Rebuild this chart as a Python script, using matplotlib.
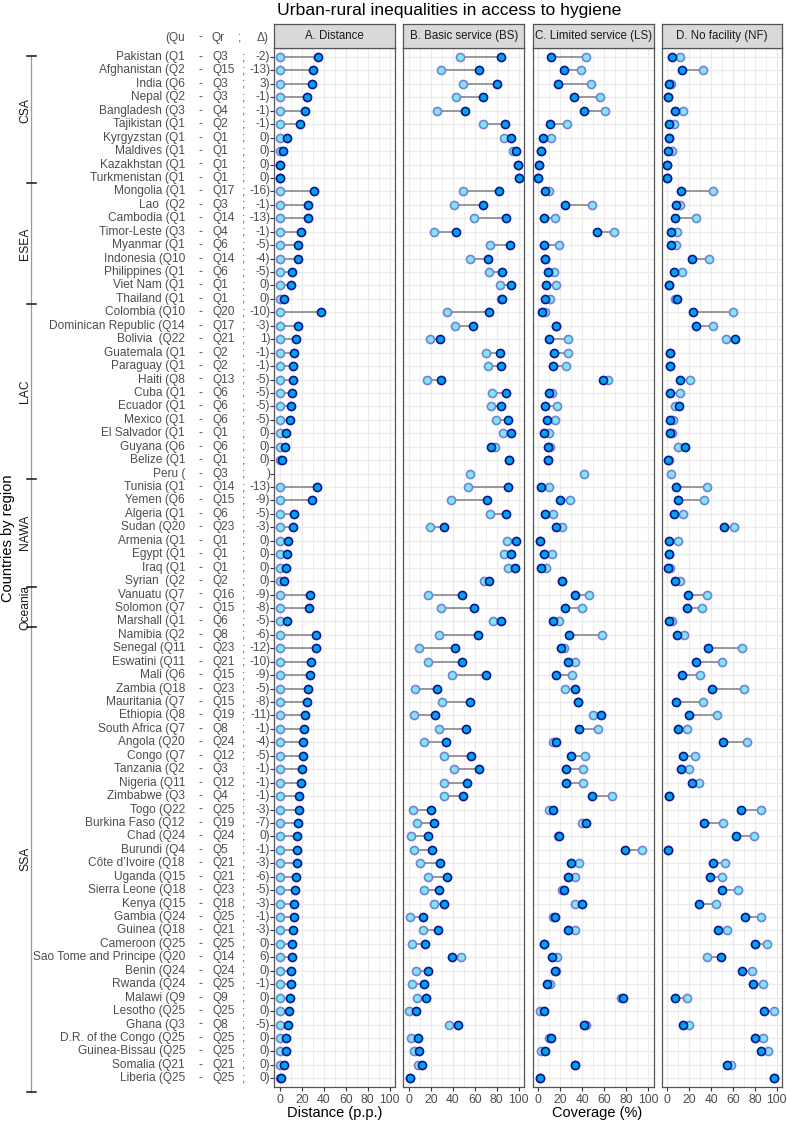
import numpy as np
import matplotlib
matplotlib.use("Agg")
import matplotlib.pyplot as plt
from matplotlib import transforms

plt.rcParams['font.family'] = ['Liberation Sans', 'DejaVu Sans']

nan = np.nan

countries = ["Pakistan", "Afghanistan", "India", "Nepal", "Bangladesh", "Tajikistan", "Kyrgyzstan",
             "Maldives", "Kazakhstan", "Turkmenistan",
             "Mongolia", "Lao ", "Cambodia", "Timor-Leste", "Myanmar", "Indonesia", "Philippines",
             "Viet Nam", "Thailand",
             "Colombia", "Dominican Republic", "Bolivia ", "Guatemala", "Paraguay", "Haiti", "Cuba",
             "Ecuador", "Mexico", "El Salvador", "Guyana", "Belize", "Peru",
             "Tunisia", "Yemen", "Algeria", "Sudan", "Armenia", "Egypt", "Iraq", "Syrian ",
             "Vanuatu", "Solomon", "Marshall",
             "Namibia", "Senegal", "Eswatini", "Mali", "Zambia", "Mauritania", "Ethiopia",
             "South Africa", "Angola", "Congo", "Tanzania", "Nigeria", "Zimbabwe", "Togo",
             "Burkina Faso", "Chad", "Burundi", "Côte d’Ivoire", "Uganda", "Sierra Leone", "Kenya",
             "Gambia", "Guinea", "Cameroon", "Sao Tome and Principe", "Benin", "Rwanda", "Malawi",
             "Lesotho", "Ghana", "D.R. of the Congo", "Guinea-Bissau", "Somalia", "Liberia"]

q_urban = ["Q1", "Q2", "Q6", "Q2", "Q3", "Q1", "Q1", "Q1", "Q1", "Q1",
           "Q1", "Q2", "Q1", "Q3", "Q1", "Q10", "Q1", "Q1", "Q1",
           "Q10", "Q14", "Q22", "Q1", "Q1", "Q8", "Q1", "Q1", "Q1", "Q1", "Q6", "Q1", "",
           "Q1", "Q6", "Q1", "Q20", "Q1", "Q1", "Q1", "Q2",
           "Q7", "Q7", "Q1",
           "Q2", "Q11", "Q11", "Q6", "Q18", "Q7", "Q8", "Q7", "Q20", "Q7", "Q2", "Q11", "Q3",
           "Q22", "Q12", "Q24", "Q4", "Q18", "Q15", "Q18", "Q15", "Q24", "Q18", "Q25", "Q20",
           "Q24", "Q24", "Q9", "Q25", "Q3", "Q25", "Q25", "Q21", "Q25"]

q_rural = ["Q3", "Q15", "Q3", "Q3", "Q4", "Q2", "Q1", "Q1", "Q1", "Q1",
           "Q17", "Q3", "Q14", "Q4", "Q6", "Q14", "Q6", "Q1", "Q1",
           "Q20", "Q17", "Q21", "Q2", "Q2", "Q13", "Q6", "Q6", "Q6", "Q1", "Q6", "Q1", "Q3",
           "Q14", "Q15", "Q6", "Q23", "Q1", "Q1", "Q1", "Q2",
           "Q16", "Q15", "Q6",
           "Q8", "Q23", "Q21", "Q15", "Q23", "Q15", "Q19", "Q8", "Q24", "Q12", "Q3", "Q12", "Q4",
           "Q25", "Q19", "Q24", "Q5", "Q21", "Q21", "Q23", "Q18", "Q25", "Q21", "Q25", "Q14",
           "Q24", "Q25", "Q9", "Q25", "Q8", "Q25", "Q25", "Q21", "Q25"]

delta = ["-2", "-13", "3", "-1", "-1", "-1", "0", "0", "0", "0",
         "-16", "-1", "-13", "-1", "-5", "-4", "-5", "0", "0",
         "-10", "-3", "1", "-1", "-1", "-5", "-5", "-5", "-5", "0", "0", "0", "",
         "-13", "-9", "-5", "-3", "0", "0", "0", "0",
         "-9", "-8", "-5",
         "-6", "-12", "-10", "-9", "-5", "-8", "-11", "-1", "-4", "-5", "-1", "-1", "-1",
         "-3", "-7", "0", "-1", "-3", "-6", "-5", "-3", "-1", "-3", "0", "6",
         "0", "-1", "0", "0", "-5", "0", "0", "0", "0"]

regions = ["CSA", "ESEA", "LAC", "NAWA", "Oceania", "SSA"]

# A. distance (p.p.)
distance = [35, 30, 29, 24.5, 23, 18.5, 6.5, 3, 0.6, 0.6,
            31, 26, 25.7, 19, 16.4, 16.4, 11.3, 9.9, 3.6,
            37.3, 16.7, 14.3, 13.1, 12.2, 11.6, 11.3, 9.9, 9.3, 5.4, 5.1, 2.1, nan,
            33.4, 29.6, 12.8, 12.2, 7.5, 6.3, 5.7, 3.9,
            27.5, 26.6, 6.9,
            32.8, 32.5, 28.4, 27.2, 26, 25.1, 23.3, 22.1, 21.5, 21.2, 20, 19.7, 17.9, 17.6,
            16.4, 15.8, 15.5, 15.5, 14.3, 13.7, 13.1, 12.5, 12.2, 11.3, 11, 10.4, 9.9, 9.6,
            8.4, 7.8, 6, 6, 3.6, 1.5]

# B. basic service (%)
bs_rural = [46.8, 29.4, 49.5, 42.9, 25.5, 67.3, 86.2, 94.6, 99.4, 100,
            49.5, 40.8, 59.5, 22.5, 74.2, 55.6, 73, 82.6, 83.5,
            35.1, 42, 19.5, 70, 72, 16.5, 76, 75, 79.6, 85.6, 78.7, 90.7, 55.9,
            54, 38.1, 73.6, 19.5, 89.5, 87, 90, 68.2,
            17.4, 29.4, 76.9,
            27.9, 9, 17.1, 39.6, 5.4, 30, 4.5, 27.9, 14.1, 32.4, 40.8, 31.8, 31.8, 4.2,
            7.8, 2.4, 4.5, 10.5, 17.4, 14.1, 22.5, 1.2, 12.9, 3, 47.7, 6.6, 3.3, 7.8,
            0, 36.6, 2.1, 4.5, 8.1, 1.5]
bs_urban = [83.5, 63.7, 80.2, 67.6, 51, 87.4, 93.1, 97.3, 99.4, 100,
            82, 67.6, 88.6, 42.6, 92.2, 72, 85, 92.5, 84.4,
            73, 58.6, 28.5, 83.2, 84, 29.4, 88.3, 83.5, 90.4, 92.5, 74.8, 90.7, nan,
            90.4, 71.2, 88, 32.4, 97, 92.5, 96.7, 72.7,
            48.6, 59.2, 84,
            62.8, 42, 48.3, 70.6, 25.5, 55.6, 23.4, 52.3, 33.9, 56.8, 63.7, 52.6, 48.9, 20.4,
            23.1, 17.7, 20.7, 28.8, 34.5, 27, 32.1, 12.6, 26.4, 15, 39.3, 17.1, 14.1, 15.9,
            6.6, 45, 8.1, 9, 12.3, 1.5]

# C. limited service (%)
ls_rural = [43.2, 38.7, 47.7, 56.2, 60.7, 26.4, 11.4, 2.1, 0.6, 0,
            10.2, 48.6, 15.3, 69, 18.6, 6.6, 14.4, 15.9, 10.5,
            6.3, 16.2, 26.7, 27, 25.5, 63.7, 12.6, 16.8, 15, 10.2, 10.5, 9.3, 41.4,
            10.2, 29.1, 13.5, 21.6, 1.2, 12.6, 7.2, 21.3,
            46.2, 40.2, 19.2,
            57.7, 23.7, 33, 30.6, 24.3, 36.6, 50.2, 54.7, 13.5, 42.9, 40.5, 40.5, 66.9, 10.2,
            40.2, 18, 94, 37.5, 33.9, 21.6, 33.6, 13.5, 33, 5.1, 17.1, 16.5, 10.5, 75.7,
            1.5, 43.5, 10.2, 2.7, 33.6, 1.5]
ls_urban = [12, 23.1, 18, 32.1, 41.7, 10.5, 4.8, 2.1, 0.6, 0,
            6.3, 24.6, 5.7, 53.5, 5.4, 6.6, 9.3, 6.9, 6,
            3.9, 16.2, 9.9, 14.4, 13.5, 59.2, 9.6, 6.6, 8.1, 5.4, 9.3, 9.3, nan,
            2.4, 19.8, 6, 15.9, 1.2, 5.7, 2.7, 21.3,
            33.6, 24, 13.8,
            28.2, 21, 26.7, 16.5, 33, 36, 57.1, 37.5, 15.9, 29.7, 24.9, 24.9, 48.9, 13.5,
            43.5, 18.9, 78.7, 30, 27, 23.1, 39.6, 15.6, 26.7, 5.1, 12.9, 15.6, 8.1, 77.5,
            5.7, 41.4, 12, 6.3, 33.6, 1.5]

# D. no facility (%)
nf_rural = [11.4, 33.1, 3.9, 1, 14, 6.6, 1.5, 4.5, 0, 0,
            42.2, 12, 25.9, 9.3, 8.4, 38.3, 13.6, 1.5, 6.9,
            60, 42.2, 53.6, 2.4, 2.4, 20.5, 11.7, 7.5, 5.4, 4.5, 10.2, 2.1, 3.3,
            36.4, 34, 14.2, 60.5, 10.2, 2.1, 3, 11.4,
            36.7, 31.6, 4.5,
            15.6, 68.4, 50.3, 30.1, 70.5, 33.1, 45.8, 17.8, 73.2, 25.3, 19.6, 28.9, 2.1, 85.2,
            51.2, 79.2, 0.9, 52.4, 49.7, 64.8, 44.3, 85.5, 54.8, 91.3, 36.4, 77.4, 87, 17.8,
            97.6, 20.2, 87.6, 91.9, 57.8, 97.5]
nf_urban = [4.5, 13.6, 2.1, 1, 7.5, 1.5, 1.5, 0.6, 0, 0,
            12.7, 8.4, 6.9, 3.9, 3.3, 22.6, 6, 1.5, 9.3,
            23.5, 26.2, 61.7, 2.4, 2.4, 12, 3, 10.5, 2.7, 2.7, 16.5, 0.6, nan,
            7.8, 9.6, 6.3, 52.1, 2.1, 1.5, 0.9, 7.2,
            19, 18.1, 2.1,
            9.3, 37, 25.9, 13.6, 41.3, 8.4, 19.6, 9.9, 50.9, 14.8, 12.3, 22.6, 2.1, 66.9,
            33.4, 63, 0.9, 41.9, 38.9, 50.3, 28.6, 71.4, 46.7, 80.4, 48.8, 68.4, 78.6, 7.5,
            88.3, 14.2, 80.4, 85.2, 54.5, 97]

panel_titles = ["A. Distance", "B. Basic service (BS)", "C. Limited service (LS)", "D. No facility (NF)"]

W, H = 787, 1122
fig = plt.figure(figsize=(W / 100, H / 100), dpi=100)
fig.patch.set_facecolor("white")


def px_axes(x0, y0, x1, y1):
    return fig.add_axes([x0 / W, 1 - y1 / H, (x1 - x0) / W, (y1 - y0) / H])


n = len(countries)
rows = np.arange(n)
top, bottom = 48.3, 1087
panel_x = [(274.3, 395.3), (403.3, 524.3), (532.7, 653.7), (661.7, 782.3)]

light_face, light_edge = "#80E6F2", "#7083D8"
dark_face, dark_edge = "#00A5E5", "#0A1396"

series = [
    (np.zeros(n), np.array(distance)),
    (np.array(bs_rural), np.array(bs_urban)),
    (np.array(ls_rural), np.array(ls_urban)),
    (np.array(nf_rural), np.array(nf_urban)),
]
series[0][0][np.isnan(series[0][1])] = nan

axes = []
for k, ((x0, x1), (lo, hi)) in enumerate(zip(panel_x, series)):
    ax = px_axes(x0, top, x1, bottom)
    axes.append(ax)
    ax.set_xlim(-5, 105)
    ax.set_ylim(n - 1 + 0.65, -0.65)
    ax.set_xticks(np.arange(0, 101, 20))
    ax.set_xticks(np.arange(10, 101, 20), minor=True)
    ax.set_yticks(rows)
    ax.grid(True, which="major", color="#EBEBEB", lw=0.9)
    ax.grid(True, which="minor", axis="x", color="#EBEBEB", lw=0.6)
    ax.set_axisbelow(True)
    for s in ax.spines.values():
        s.set_color("#555555")
        s.set_linewidth(0.9)
    ax.tick_params(axis="x", which="major", length=3, color="#333333",
                   labelsize=8.7, labelcolor="#4D4D4D", pad=2)
    ax.tick_params(axis="x", which="minor", length=0)
    ax.tick_params(axis="y", length=3 if k == 0 else 0, color="#333333", labelleft=False)
    ax.hlines(rows, lo, hi, color="#7F7F7F", lw=1.1, zorder=2)
    ax.plot(lo, rows, "o", ms=5.8, mfc=light_face, mec=light_edge, mew=1.2, zorder=3, ls="none")
    ax.plot(hi, rows, "o", ms=5.8, mfc=dark_face, mec=dark_edge, mew=1.2, zorder=4, ls="none")

    sax = px_axes(x0, 24, x1, top)
    sax.set_facecolor("#D9D9D9")
    sax.set_xticks([])
    sax.set_yticks([])
    for s in sax.spines.values():
        s.set_color("#555555")
        s.set_linewidth(0.9)
    sax.text(0.5, 0.5, panel_titles[k], ha="center", va="center", fontsize=8.3, color="#1A1A1A",
             transform=sax.transAxes)

axA = axes[0]
tr = transforms.blended_transform_factory(fig.transFigure, axA.transData)
lab_kw = dict(fontsize=8.6, color="#4D4D4D", va="center", transform=tr)
for i in rows:
    fig.text(185 / W, i, f"{countries[i]} ({q_urban[i]}", ha="right", **lab_kw)
    fig.text(200.5 / W, i, "-", ha="center", **lab_kw)
    fig.text(212.5 / W, i, q_rural[i], ha="left", **lab_kw)
    fig.text(244 / W, i, ";", ha="center", **lab_kw)
    fig.text(270.5 / W, i, f"{delta[i]})", ha="right", **lab_kw)

# header row
hy = 1 - 37.5 / H
hkw = dict(fontsize=8.6, color="#4D4D4D", va="center")
fig.text(185 / W, hy, "(Qu", ha="right", **hkw)
fig.text(200 / W, hy, "-", ha="center", **hkw)
fig.text(212 / W, hy, "Qr", ha="left", **hkw)
fig.text(240 / W, hy, ";", ha="center", **hkw)
fig.text(269 / W, hy, "Δ)", ha="right", **hkw)

# region brackets
bounds = [-0.1, 9.4, 18.35, 31.4, 39.45, 42.45, 77.0]
centers = [4.0, 13.9, 24.9, 35.4, 40.95, 59.7]
fig.add_artist(plt.Line2D([31 / W, 31 / W], [bounds[0], bounds[-1]], color="#999999", lw=0.9,
                          transform=tr))
for b in bounds:
    fig.add_artist(plt.Line2D([27 / W, 35.5 / W], [b, b], color="#111111", lw=1.1, transform=tr))
for name, c in zip(regions, centers):
    fig.text(25 / W, c, name, rotation=90, ha="center", va="center", fontsize=8.7,
             color="#1A1A1A", transform=tr)

fig.text(8 / W, 1 - 538 / H, "Countries by region", rotation=90, ha="center", va="center",
         fontsize=10.5, color="black")
fig.text(335 / W, 1 - 1113 / H, "Distance (p.p.)", ha="center", va="center", fontsize=10.5)
fig.text(597 / W, 1 - 1113 / H, "Coverage (%)", ha="center", va="center", fontsize=10.5)
fig.text(449 / W, 1 - 14.5 / H, "Urban-rural inequalities in access to hygiene", ha="center",
         va="baseline", fontsize=12.6)

fig.savefig("out.png", dpi=100, facecolor="white")
